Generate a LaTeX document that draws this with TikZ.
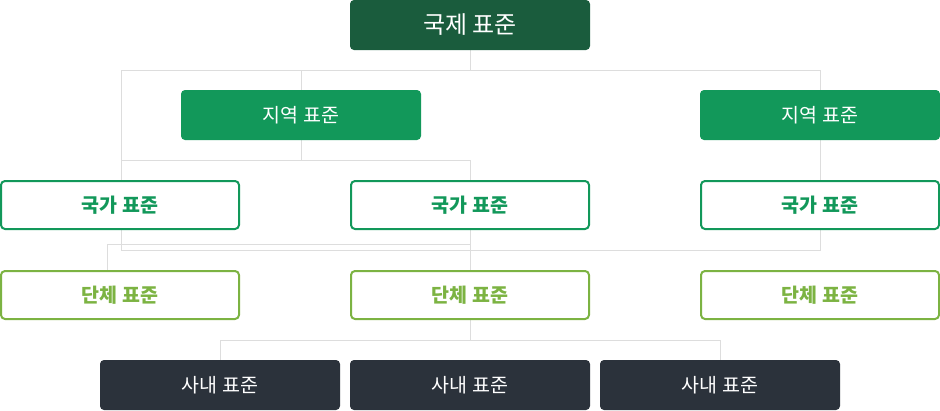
\documentclass[tikz,border=0pt]{standalone}
\usepackage{fontspec}
\setmainfont{Noto Sans CJK KR}
\usetikzlibrary{backgrounds}
\definecolor{cIntl}{HTML}{1A5C3D}
\definecolor{cReg}{HTML}{12985A}
\definecolor{cNat}{HTML}{12985A}
\definecolor{cOrg}{HTML}{7CB342}
\definecolor{cIn}{HTML}{2B323B}
\definecolor{cLine}{HTML}{DDDDDD}
\tikzset{
  filledbox/.style={rounded corners=4pt, minimum width=240pt, minimum height=50pt, inner sep=0pt, text=white, draw=none},
  intlbox/.style={filledbox, fill=cIntl, font=\fontsize{24}{28}\selectfont},
  regbox/.style={filledbox, fill=cReg, font=\fontsize{19.5}{23}\selectfont},
  inbox/.style={filledbox, fill=cIn, font=\fontsize{19.5}{23}\selectfont},
  outlinebox/.style={rounded corners=4pt, minimum width=238pt, minimum height=48pt, inner sep=0pt, line width=2pt, fill=white, font=\fontsize{19.5}{23}\selectfont\bfseries},
  natbox/.style={outlinebox, draw=cNat, text=cNat},
  orgbox/.style={outlinebox, draw=cOrg, text=cOrg},
  link/.style={draw=cLine, line width=1pt},
}
\begin{document}
\begin{tikzpicture}[x=1pt,y=-1pt]
\useasboundingbox (0,0) rectangle (940,410);
% boxes
\node[intlbox] (intl) at (470,25) {국제 표준};
\node[regbox] (regL) at (301,115) {지역 표준};
\node[regbox] (regR) at (820,115) {지역 표준};
\node[natbox] (natL) at (120,205) {국가 표준};
\node[natbox] (natC) at (470,205) {국가 표준};
\node[natbox] (natR) at (820,205) {국가 표준};
\node[orgbox] (orgL) at (120,295) {단체 표준};
\node[orgbox] (orgC) at (470,295) {단체 표준};
\node[orgbox] (orgR) at (820,295) {단체 표준};
\node[inbox] (inL) at (220,385) {사내 표준};
\node[inbox] (inC) at (470,385) {사내 표준};
\node[inbox] (inR) at (720,385) {사내 표준};
% junction coordinates
\coordinate (t1) at (470,70);
\coordinate (t1L) at (121,70);
\coordinate (t1R) at (820,70);
\coordinate (t1M) at (301,70);
\coordinate (t2L) at (121,160);
\coordinate (t2C) at (470,160);
\coordinate (t3L) at (121,250);
\coordinate (t3R) at (820,250);
\coordinate (t4L) at (107,244);
\coordinate (t4C) at (470,244);
\coordinate (t5) at (470,340);
\coordinate (t5L) at (220,340);
\coordinate (t5R) at (720,340);
% connectors (behind boxes)
\begin{scope}[on background layer]
\draw[link] (intl.south) -- (t1);
\draw[link] (t1L) -- (t1R);
\draw[link] (t1M) -- (regL.north);
\draw[link] (regL.south) -- (regL.south |- t2L);
\draw[link] (t2L) -- (t2C) -- (natC.north);
\draw[link] (t1L) -- (t3L) -- (t3R) -- (t1R);
\draw[link] (orgL.north -| t4L) -- (t4L) -- (t4C);
\draw[link] (natC.south) -- (orgC.north);
\draw[link] (orgC.south) -- (t5);
\draw[link] (inL.north) -- (t5L) -- (t5R) -- (inR.north);
\end{scope}
\end{tikzpicture}
\end{document}
